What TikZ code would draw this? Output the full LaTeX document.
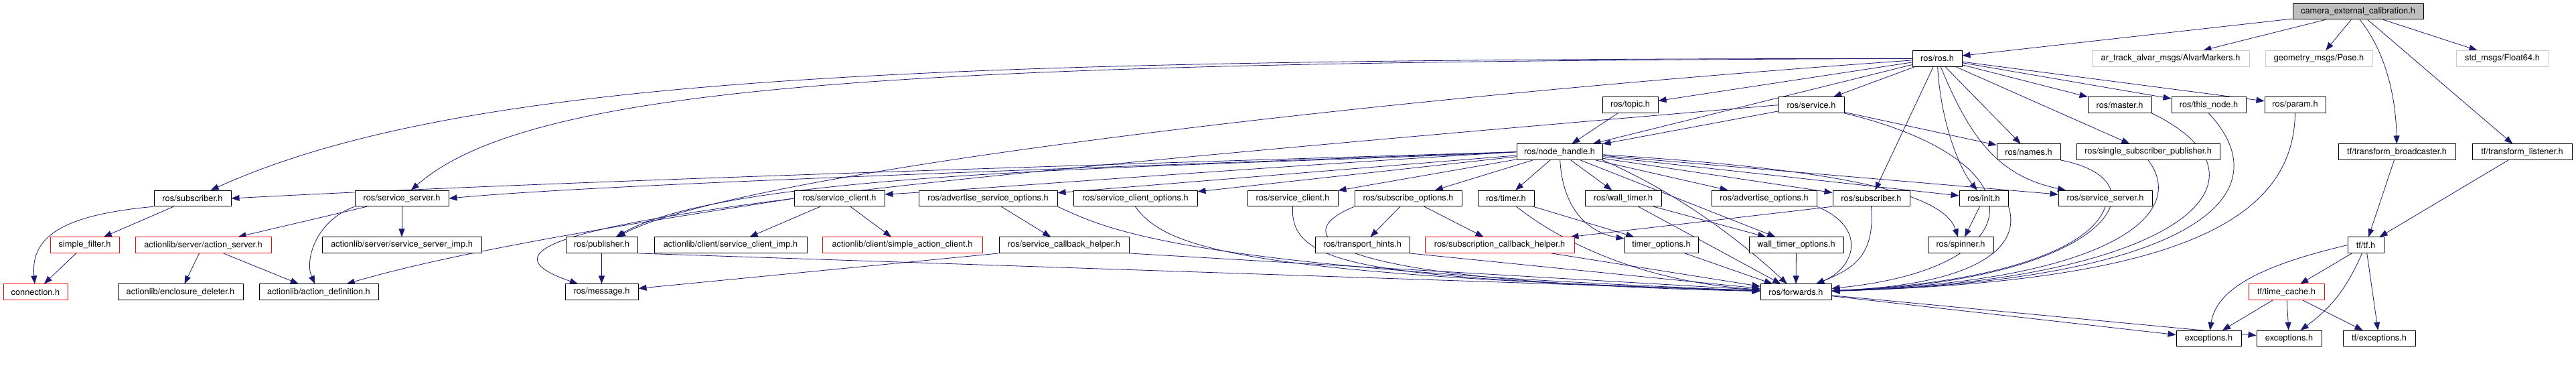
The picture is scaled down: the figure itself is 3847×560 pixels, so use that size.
\documentclass[tikz,border=0pt]{standalone}
\usepackage{fontspec}
\setmainfont{TeX Gyre Heros}
\usetikzlibrary{arrows.meta}
\definecolor{edgec}{HTML}{191970}
\definecolor{rootfill}{HTML}{BFBFBF}
\definecolor{lgray}{HTML}{CCCCCC}
\pgfdeclarelayer{background}
\pgfsetlayers{background,main}
\tikzset{
  box/.style={draw=black, line width=1pt, fill=white, minimum height=23.5pt, inner sep=0pt,
    font=\fontsize{12.8}{14}\selectfont, text=black},
  redbox/.style={box, draw=red},
  graybox/.style={box, draw=lgray},
  rootbox/.style={box, fill=rootfill},
  edge/.style={draw=edgec, line width=0.8pt, -{Triangle[length=12pt,width=9pt]}},
}
\begin{document}
\begin{tikzpicture}[x=1pt,y=1pt]
\useasboundingbox (0,0) rectangle (3847,-560);
% row 0
\node[rootbox, minimum width=195pt] (camera) at (3521.5,-17.2) {camera\_external\_calibration.h};
% row 1
\node[box, minimum width=74pt] (ros) at (2893,-87.3) {ros/ros.h};
\node[graybox, minimum width=235pt] (alvar) at (3241.5,-87.3) {ar\_track\_alvar\_msgs/AlvarMarkers.h};
\node[graybox, minimum width=160pt] (pose) at (3463,-87.3) {geometry\_msgs/Pose.h};
\node[graybox, minimum width=138pt] (float) at (3737,-87.3) {std\_msgs/Float64.h};
% row 2
\node[box, minimum width=83pt] (topic) at (2434.5,-156.7) {ros/topic.h};
\node[box, minimum width=98pt] (service) at (2705,-156.7) {ros/service.h};
\node[box, minimum width=95pt] (master) at (3165.5,-156.7) {ros/master.h};
\node[box, minimum width=111pt] (thisnode) at (3298.5,-156.7) {ros/this\_node.h};
\node[box, minimum width=91pt] (param) at (3427.5,-156.7) {ros/param.h};
% row 3
\node[box, minimum width=128pt] (nh) at (2329,-226.7) {ros/node\_handle.h};
\node[box, minimum width=95pt] (names) at (3029.5,-226.7) {ros/names.h};
\node[box, minimum width=214pt] (ssp) at (3208,-226.7) {ros/single\_subscriber\_publisher.h};
\node[box, minimum width=175pt] (tfb) at (3579.5,-226.7) {tf/transform\_broadcaster.h};
\node[box, minimum width=149pt] (tfl) at (3766.5,-226.7) {tf/transform\_listener.h};
% row 4
\node[box, minimum width=115pt] (subL) at (287.5,-296) {ros/subscriber.h};
\node[box, minimum width=140pt] (ssL) at (600,-296) {ros/service\_server.h};
\node[box, minimum width=135pt] (scL) at (1253.5,-296) {ros/service\_client.h};
\node[box, minimum width=207pt] (aso) at (1475.5,-296) {ros/advertise\_service\_options.h};
\node[box, minimum width=185pt] (sco) at (1695.5,-296) {ros/service\_client\_options.h};
\node[box, minimum width=135pt] (scR) at (1930.5,-296) {ros/service\_client.h};
\node[box, minimum width=160pt] (subo) at (2103,-296) {ros/subscribe\_options.h};
\node[box, minimum width=84pt] (timer) at (2249,-296) {ros/timer.h};
\node[box, minimum width=114pt] (wtimer) at (2424,-296) {ros/wall\_timer.h};
\node[box, minimum width=157pt] (advo) at (2634.5,-296) {ros/advertise\_options.h};
\node[box, minimum width=115pt] (subR) at (2794.5,-296) {ros/subscriber.h};
\node[box, minimum width=73pt] (init) at (2962.5,-296) {ros/init.h};
\node[box, minimum width=140pt] (ssR) at (3144,-296) {ros/service\_server.h};
% row 5
\node[redbox, minimum width=103pt] (sf) at (126.5,-365.7) {simple\_filter.h};
\node[redbox, minimum width=203pt] (acs) at (303.5,-365.7) {actionlib/server/action\_server.h};
\node[box, minimum width=238pt] (ssimp) at (600,-365.7) {actionlib/server/service\_server\_imp.h};
\node[box, minimum width=107pt] (pub) at (898.5,-365.7) {ros/publisher.h};
\node[box, minimum width=228pt] (scimp) at (1091,-365.7) {actionlib/client/service\_client\_imp.h};
\node[redbox, minimum width=239pt] (sac) at (1347.5,-365.7) {actionlib/client/simple\_action\_client.h};
\node[box, minimum width=194pt] (sch) at (1589,-365.7) {ros/service\_callback\_helper.h};
\node[box, minimum width=141pt] (th) at (2034.5,-365.7) {ros/transport\_hints.h};
\node[redbox, minimum width=223pt] (subch) at (2239.5,-365.7) {ros/subscription\_callback\_helper.h};
\node[box, minimum width=110pt] (tmo) at (2481,-365.7) {timer\_options.h};
\node[box, minimum width=141pt] (wto) at (2682.5,-365.7) {wall\_timer\_options.h};
\node[box, minimum width=98pt] (spin) at (2928,-365.7) {ros/spinner.h};
\node[box, minimum width=54pt] (tf) at (3533,-365.7) {tf/tf.h};
% row 6
\node[redbox, minimum width=96pt] (conn) at (53,-435.7) {connection.h};
\node[box, minimum width=187pt] (encl) at (269.5,-435.7) {actionlib/enclosure\_deleter.h};
\node[box, minimum width=178pt] (adef) at (476,-435.7) {actionlib/action\_definition.h};
\node[box, minimum width=109pt] (msg) at (898.5,-435.7) {ros/message.h};
\node[box, minimum width=106pt] (fwd) at (2682,-435.7) {ros/forwards.h};
\node[redbox, minimum width=113pt] (tc) at (3414.5,-435.7) {tf/time\_cache.h};
% row 7
\node[box, minimum width=97pt] (exc1) at (3298.5,-505) {exceptions.h};
\node[box, minimum width=97pt] (exc2) at (3418.5,-505) {exceptions.h};
\node[box, minimum width=108pt] (tfexc) at (3553,-505) {tf/exceptions.h};

\begin{pgfonlayer}{background}
% camera
\draw[edge] (camera) -- (ros);
\draw[edge] (camera) -- (alvar);
\draw[edge] (camera) -- (pose);
\draw[edge] (camera) -- (float);
\draw[edge] (camera.282) .. controls (3565,-80) and (3578,-150) .. (tfb);
\draw[edge] (camera) -- (tfl);
% ros.h
\draw[edge] (ros) .. controls (1400,-88) and (700,-110) .. (subL);
\draw[edge] (ros) .. controls (1400,-92) and (800,-120) .. (ssL);
\draw[edge] (ros) .. controls (2000,-150) and (1100,-260) .. (pub);
\draw[edge] (ros) -- (topic);
\draw[edge] (ros) -- (service);
\draw[edge] (ros) -- (nh);
\draw[edge] (ros) -- (master);
\draw[edge] (ros) -- (thisnode);
\draw[edge] (ros) -- (param);
\draw[edge] (ros) -- (names);
\draw[edge] (ros) -- (ssp);
\draw[edge] (ros) .. controls (2898,-180) and (2925,-250) .. (init);
\draw[edge] (ros) .. controls (2940,-200) and (2980,-262) .. (ssR);
\draw[edge] (ros) -- (subR);
% topic / service
\draw[edge] (topic) -- (nh);
\draw[edge] (service) -- (nh);
\draw[edge] (service) -- (names);
\draw[edge] (service.south east) .. controls (3050,-240) and (3040,-400) .. (fwd);
\draw[edge] (service.west) .. controls (1200,-280) and (620,-340) .. (msg);
% node_handle
\draw[edge] (nh.west) .. controls (1500,-250) and (800,-272) .. (subL.east);
\draw[edge] (nh.west) .. controls (1500,-255) and (900,-275) .. (ssL.east);
\draw[edge] (nh.west) .. controls (1800,-255) and (1450,-283) .. (scL.5);
\draw[edge] (nh.west) .. controls (1800,-250) and (1100,-250) .. (pub);
\draw[edge] (nh) -- (aso);
\draw[edge] (nh) -- (sco);
\draw[edge] (nh) -- (scR);
\draw[edge] (nh) -- (subo);
\draw[edge] (nh) -- (timer);
\draw[edge] (nh) -- (wtimer);
\draw[edge] (nh) -- (advo);
\draw[edge] (nh) -- (subR);
\draw[edge] (nh) -- (init);
\draw[edge] (nh) -- (ssR);
\draw[edge] (nh) .. controls (2700,-250) and (2900,-280) .. (spin);
\draw[edge] (nh) .. controls (2335,-330) and (2390,-350) .. (tmo);
\draw[edge] (nh) -- (wto);
\draw[edge] (nh.south east) .. controls (2510,-290) and (2600,-360) .. (fwd);
% left part
\draw[edge] (subL.south west) .. controls (100,-320) and (45,-350) .. (conn);
\draw[edge] (subL) -- (sf);
\draw[edge] (sf) -- (conn);
\draw[edge] (ssL) -- (acs);
\draw[edge] (ssL) -- (ssimp);
\draw[edge] (ssL.south west) .. controls (470,-330) and (455,-390) .. (adef);
\draw[edge] (acs) -- (encl);
\draw[edge] (acs) -- (adef);
\draw[edge] (scL) -- (scimp);
\draw[edge] (scL) -- (sac);
\draw[edge] (scL.west) .. controls (1000,-325) and (700,-370) .. (adef);
\draw[edge] (pub) -- (msg);
\draw[edge] (pub.south east) -- (fwd);
\draw[edge] (aso) -- (sch);
\draw[edge] (aso.south east) .. controls (1650,-340) and (1750,-400) .. (fwd);
\draw[edge] (sch.south west) -- (msg);
\draw[edge] (sch.south east) -- (fwd);
\draw[edge] (sco.south) .. controls (1740,-370) and (1850,-410) .. (fwd);
\draw[edge] (scR.south) .. controls (1925,-400) and (2050,-415) .. (fwd);
\draw[edge] (subo) -- (th);
\draw[edge] (subo) -- (subch);
\draw[edge] (subo.south west) .. controls (1920,-350) and (1960,-420) .. (fwd);
\draw[edge] (th.south east) -- (fwd);
\draw[edge] (subch) -- (fwd);
\draw[edge] (timer) -- (tmo);
\draw[edge] (timer) .. controls (2330,-360) and (2450,-420) .. (fwd);
\draw[edge] (tmo) -- (fwd);
\draw[edge] (wtimer) -- (wto);
\draw[edge] (wtimer) -- (fwd);
\draw[edge] (wto) -- (fwd);
\draw[edge] (advo.south east) .. controls (2790,-340) and (2770,-400) .. (fwd);
\draw[edge] (subR.south west) -- (subch);
\draw[edge] (subR.south) .. controls (2800,-380) and (2770,-400) .. (fwd);
\draw[edge] (init) -- (spin);
\draw[edge] (init.south east) .. controls (3020,-370) and (2950,-425) .. (fwd);
\draw[edge] (ssR.south) .. controls (3120,-380) and (2950,-425) .. (fwd);
\draw[edge] (names.south east) .. controls (3240,-270) and (3150,-420) .. (fwd);
\draw[edge] (ssp.south) .. controls (3270,-320) and (3150,-420) .. (fwd);
\draw[edge] (master.south east) .. controls (3420,-270) and (3250,-420) .. (fwd);
\draw[edge] (thisnode.south) .. controls (3420,-300) and (3250,-420) .. (fwd);
\draw[edge] (param.south) .. controls (3425,-330) and (3250,-420) .. (fwd);
\draw[edge] (fwd) -- (exc1);
\draw[edge] (fwd) -- (exc2);
% tf
\draw[edge] (tfb) -- (tf);
\draw[edge] (tfl) -- (tf);
\draw[edge] (tf.west) .. controls (3380,-395) and (3310,-430) .. (exc1);
\draw[edge] (tf) -- (tc);
\draw[edge] (tf) to[bend left=15] (exc2);
\draw[edge] (tf) -- (tfexc);
\draw[edge] (tc) -- (exc1);
\draw[edge] (tc) -- (exc2);
\draw[edge] (tc) -- (tfexc);
\end{pgfonlayer}
\end{tikzpicture}
\end{document}
